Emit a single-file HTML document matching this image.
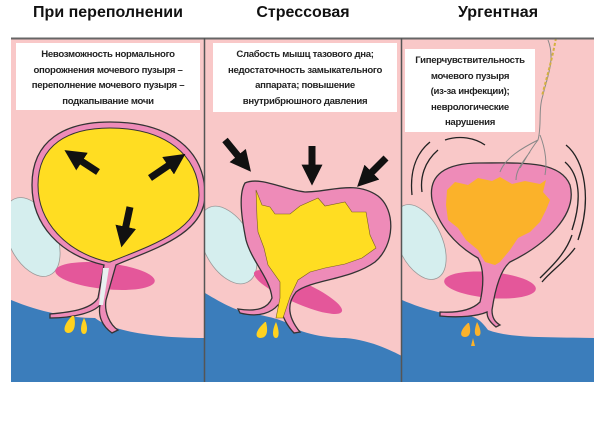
<!DOCTYPE html>
<html><head><meta charset="utf-8"><style>
html,body{margin:0;padding:0;background:#fff;}
body{width:604px;height:423px;overflow:hidden;position:relative;font-family:"Liberation Sans",sans-serif;}
svg{position:absolute;left:0;top:0;}
.t{position:absolute;top:4px;font:bold 16px "Liberation Sans",sans-serif;color:#111;text-align:center;}
.b{position:absolute;background:#fff;font-weight:bold;font-size:9.6px;letter-spacing:-0.3px;line-height:15.5px;text-align:center;color:#222;box-sizing:border-box;padding-top:4px;white-space:nowrap;}
</style></head><body>
<svg width="604" height="423" viewBox="0 0 604 423">
<defs>
<marker id="ah" markerWidth="3" markerHeight="3" refX="1.2" refY="1.5" orient="auto" markerUnits="strokeWidth"><path d="M0,0 L3,1.5 L0,3 Z" fill="#111"/></marker>
<clipPath id="c1"><rect x="11" y="38" width="194" height="344"/></clipPath>
<clipPath id="c2"><rect x="205" y="38" width="197" height="344"/></clipPath>
<clipPath id="c3"><rect x="402" y="38" width="192" height="344"/></clipPath>
</defs>
<rect x="11" y="38" width="583" height="344" fill="#f9c8c8"/>
<!-- Panel 1 -->
<g clip-path="url(#c1)">
<path d="M11,300 C40,312 70,318 95,318 C110,330 150,338 205,338 L205,382 L11,382 Z" fill="#3b7dbb"/>
<ellipse cx="32" cy="237" rx="24" ry="42" transform="rotate(-25 32 237)" fill="#d5eeee" stroke="#999" stroke-width="0.8"/>
<ellipse cx="105" cy="276" rx="50" ry="13" transform="rotate(6 105 276)" fill="#e4579a"/>
<path d="M50,314 C75,312 92,308 98,298 L104,265 C60,255 32,225 32,185 C32,140 65,122 110,122 C170,122 205,150 205,195 C205,235 150,250 116,265 L106,300 C104,312 110,325 118,330 L112,333 C102,326 98,316 100,305 C94,312 75,318 50,318 Z" fill="#ee8bb8" stroke="#333" stroke-width="1.3"/>
<path d="M108,262 C66,252 38,222 38,185 C38,145 68,128 110,128 C165,128 199,155 199,195 C199,230 150,246 110,262 Z" fill="#ffdd22" stroke="#333" stroke-width="1"/>
<path d="M103,268 L109,268 L103,305 L99,305 Z" fill="#e8f0f0"/>
<line x1="98" y1="172" x2="75" y2="157" stroke="#111" stroke-width="7" marker-end="url(#ah)"/>
<line x1="150" y1="178" x2="175" y2="161" stroke="#111" stroke-width="7" marker-end="url(#ah)"/>
<line x1="130" y1="207" x2="124" y2="235" stroke="#111" stroke-width="7" marker-end="url(#ah)"/>
<path d="M72,316 C64,324 62,332 68,333 C75,333 76,324 74,316 Z M84,318 C80,326 80,334 84,334 C88,334 88,325 84,318 Z" fill="#ffd21f"/>
</g>
<!-- Panel 2 -->
<g clip-path="url(#c2)">
<path d="M205,293 C225,305 240,313 260,315 C275,318 280,320 285,322 C300,335 330,338 345,338 C370,340 390,350 402,356 L402,382 L205,382 Z" fill="#3b7dbb"/>
<ellipse cx="228" cy="245" rx="24" ry="42" transform="rotate(-28 228 245)" fill="#d5eeee" stroke="#999" stroke-width="0.8"/>
<ellipse cx="298" cy="292" rx="48" ry="11" transform="rotate(24 298 292)" fill="#e4579a"/>
<path d="M245,183 C260,176 285,190 305,192 C330,192 355,180 378,196 C396,210 395,245 375,262 C350,280 310,280 296,292 C288,302 286,315 300,332 L294,333 C282,320 282,310 278,305 C272,312 260,318 240,313 L238,309 C258,312 268,308 272,298 C270,278 252,262 246,240 C242,220 238,195 245,183 Z" fill="#ee8bb8" stroke="#333" stroke-width="1.3"/>
<path d="M256,190 L262,205 L270,207 L275,214 L290,214 L300,206 L318,198 L325,206 L345,202 L352,212 L366,212 L370,235 L376,248 L362,258 L345,264 L325,268 L310,272 L298,280 L290,297 L283,318 L276,318 L280,298 L280,282 L268,265 L264,248 L258,232 L257,218 Z" fill="#ffdd22" stroke="#7a6020" stroke-width="0.6"/>
<line x1="225" y1="140" x2="243" y2="162" stroke="#111" stroke-width="7" marker-end="url(#ah)"/>
<line x1="312" y1="146" x2="312" y2="173" stroke="#111" stroke-width="7" marker-end="url(#ah)"/>
<line x1="386" y1="158" x2="366" y2="178" stroke="#111" stroke-width="7" marker-end="url(#ah)"/>
<path d="M265,322 C256,330 254,337 260,338 C268,338 268,330 266,322 Z M276,322 C272,330 272,338 276,338 C280,338 279,329 276,322 Z" fill="#ffd21f"/>
</g>
<!-- Panel 3 -->
<g clip-path="url(#c3)">
<path d="M402,300 C425,310 450,316 470,316 C478,318 482,322 488,330 C510,338 540,337 594,338 L594,382 L402,382 Z" fill="#3b7dbb"/>
<ellipse cx="420" cy="242" rx="22" ry="40" transform="rotate(-25 420 242)" fill="#d5eeee" stroke="#999" stroke-width="0.8"/>
<ellipse cx="490" cy="285" rx="46" ry="13" transform="rotate(5 490 285)" fill="#e4579a"/>
<path d="M432,200 C428,175 445,163 480,163 C520,163 560,160 570,185 C578,215 545,245 510,262 C500,270 495,290 492,310 C492,318 495,322 500,325 L496,327 C490,322 487,318 487,312 C478,316 460,318 440,316 L440,312 C458,313 472,310 480,302 C484,285 484,268 478,258 C455,245 438,225 432,200 Z" fill="#ee8bb8" stroke="#333" stroke-width="1.3"/>
<path d="M447,190 L455,182 L468,185 L478,178 L492,181 L500,177 L512,184 L525,181 L540,184 L546,180 L543,192 L550,200 L546,210 L540,222 L530,232 L518,238 L510,250 L500,262 L495,265 L485,262 L478,250 L466,240 L458,228 L448,220 L446,205 Z" fill="#fbb22a"/>
<path d="M548,40 C556,60 546,80 543,95 C538,110 542,125 538,140 C530,150 525,160 520,168 M538,140 C522,148 505,158 500,172 M530,152 C520,165 516,172 516,180 M540,135 C546,150 547,165 545,175" fill="none" stroke="#888" stroke-width="1"/>
<path d="M556,38 C552,60 546,80 542,96" fill="none" stroke="#d4b040" stroke-width="2" stroke-dasharray="3 2"/>
<path d="M430,142 C414,155 410,175 412,195 M438,150 C424,162 420,178 422,192 M445,140 C460,135 475,138 485,145 M566,145 C585,160 592,200 578,240 M565,162 C580,175 582,200 572,230 M572,235 C565,255 550,268 540,278 M575,248 C565,262 552,270 542,282" fill="none" stroke="#222" stroke-width="1.3"/>
<path d="M468,323 C460,330 459,337 465,337 C471,337 471,330 469,323 Z M477,322 C474,330 474,336 478,336 C482,336 481,329 477,322 Z M473,338 L471,346 L475,346 Z" fill="#fbb22a"/>
</g>
<!-- frame -->
<line x1="11" y1="38.5" x2="594" y2="38.5" stroke="#666" stroke-width="2"/>
<line x1="204.5" y1="38" x2="204.5" y2="382" stroke="#555" stroke-width="1.5"/>
<line x1="401.5" y1="38" x2="401.5" y2="382" stroke="#555" stroke-width="1.5"/>
</svg>
<div class="t" style="left:11px;width:194px;">При переполнении</div>
<div class="t" style="left:205px;width:196px;">Стрессовая</div>
<div class="t" style="left:402px;width:192px;">Ургентная</div>
<div class="b" style="left:16px;top:43px;width:184px;height:67px;">Невозможность нормального<br>опорожнения мочевого пузыря –<br>переполнение мочевого пузыря –<br>подкапывание мочи</div>
<div class="b" style="left:213px;top:43px;width:184px;height:69px;">Слабость мышц тазового дна;<br>недостаточность замыкательного<br>аппарата; повышение<br>внутрибрюшного давления</div>
<div class="b" style="left:405px;top:49px;width:130px;height:83px;">Гиперчувствительность<br>мочевого пузыря<br>(из-за инфекции);<br>неврологические<br>нарушения</div>
</body></html>
